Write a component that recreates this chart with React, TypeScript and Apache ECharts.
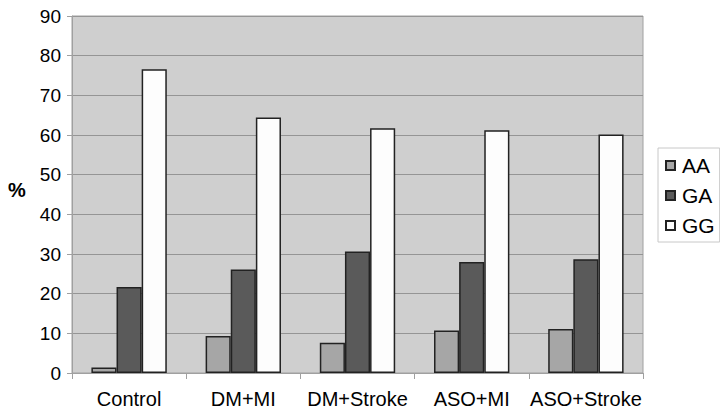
import React, { useEffect, useRef } from "react";
import * as echarts from "echarts";

const categories = ["Control", "DM+MI", "DM+Stroke", "ASO+MI", "ASO+Stroke"];
const seriesNames = ["AA", "GA", "GG"];
const aaValues = [1.4, 9.3, 7.6, 10.7, 11.1];
const gaValues = [21.7, 26.1, 30.6, 28.0, 28.7];
const ggValues = [76.6, 64.4, 61.7, 61.2, 60.1];
const colors = ["#a6a6a6", "#5a5a5a", "#fdfdfd"];

export default function App() {
  const ref = useRef<HTMLDivElement>(null);
  useEffect(() => {
    if (!ref.current) return;
    const chart = echarts.init(ref.current, null, { renderer: "svg" });
    const font = "'Liberation Sans', Arial, sans-serif";
    const data = [aaValues, gaValues, ggValues];
    chart.setOption({
      animation: false,
      backgroundColor: "#ffffff",
      textStyle: { fontFamily: font },
      grid: {
        left: 72,
        top: 16,
        right: 77,
        bottom: 42,
        show: true,
        backgroundColor: "#cfcfcf",
        borderColor: "#a0a0a0",
        borderWidth: 1,
      },
      graphic: [
        {
          type: "text",
          left: 8,
          top: 180,
          style: { text: "%", fontSize: 20, fontWeight: "bold", fill: "#000", fontFamily: font },
        },
      ],
      legend: {
        orient: "vertical",
        left: 658,
        top: 148,
        data: seriesNames,
        icon: "rect",
        itemWidth: 9,
        itemHeight: 9,
        itemGap: 9,
        padding: [7, 5, 6, 7],
        borderColor: "#c8c8c8",
        borderWidth: 1,
        textStyle: { fontSize: 21, color: "#000", fontFamily: font, padding: [0, 0, 0, 2] },
      },
      xAxis: {
        type: "category",
        data: categories,
        axisLine: { lineStyle: { color: "#a0a0a0" } },
        axisTick: { show: true, length: 6, lineStyle: { color: "#a0a0a0" } },
        axisLabel: { interval: 0, fontSize: 20, color: "#000", margin: 16, fontFamily: font },
      },
      yAxis: {
        type: "value",
        min: 0,
        max: 90,
        interval: 10,
        axisLine: { show: true, lineStyle: { color: "#a0a0a0" } },
        axisTick: { show: true, length: 5, lineStyle: { color: "#a0a0a0" } },
        axisLabel: { fontSize: 19, color: "#000", margin: 11, fontFamily: font },
        splitLine: { lineStyle: { color: "#959595", width: 1 } },
      },
      series: seriesNames.map((name, i) => ({
        name,
        type: "bar",
        data: data[i],
        barGap: "0%",
        barCategoryGap: "34%",
        itemStyle: { color: colors[i], borderColor: "#222", borderWidth: 1.5 },
      })),
    });
    return () => chart.dispose();
  }, []);
  return (
    <div
      ref={ref}
      style={{ position: "absolute", left: 0, top: 0, width: 720, height: 415 }}
    />
  );
}
